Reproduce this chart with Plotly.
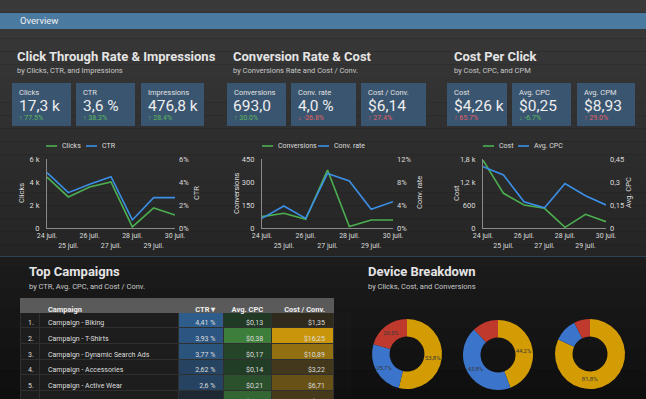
import plotly.graph_objects as go

W, H = 646, 399
def X(p): return p / W
def Y(p): return 1 - p / H

# ---------------- data ----------------
dates = ["24 juil.", "25 juil.", "26 juil.", "27 juil.", "28 juil.", "29 juil.", "30 juil."]
clicks = [4430, 2700, 3570, 4000, 90, 1740, 1130]
ctr = [4.81, 3.07, 3.80, 4.46, 0.70, 2.64, 2.64]
conversions = [74, 96, 57, 378, 9, 52, 52]
conv_rate = [1.68, 3.83, 1.68, 9.5, 8.17, 3.25, 4.58]
cost = [1770, 905, 600, 513, 18, 357, 165]
avg_cpc = [0.40, 0.346, 0.171, 0.132, 0.29, 0.21, 0.15]

kpi_labels = ["Clicks", "CTR", "Impressions", "Conversions", "Conv. rate", "Cost / Conv.", "Cost", "Avg. CPC", "Avg. CPM"]
kpi_values = ["17,3 k", "3,6 %", "476,8 k", "693,0", "4,0 %", "$6,14", "$4,26 k", "$0,25", "$8,93"]
kpi_changes = ["↑ 77.5%", "↑ 38.3%", "↑ 28.4%", "↑ 30.0%", "↓ -26.8%", "↑ 27.4%", "↑ 65.7%", "↓ -6.7%", "↑ 29.0%"]
kpi_good = [True, True, True, True, False, False, False, True, False]

campaigns = ["Campaign - Biking", "Campaign - T-Shirts", "Campaign - Dynamic Search Ads",
             "Campaign - Accessories", "Campaign - Active Wear", "Campaign - Wearables"]
camp_ctr = [4.41, 3.93, 3.77, 2.62, 2.6, 0.65]
camp_cpc = [0.13, 0.38, 0.17, 0.14, 0.21, 0.29]
camp_cost_conv = [1.35, 16.25, 10.89, 3.22, 6.71, 3.6]
table_headers = ["", "Campaign", "CTR ▾", "Avg. CPC", "Cost / Conv."]

devices = ["Mobile", "Desktop", "Tablet"]
share_clicks = [53.8, 25.7, 20.5]
share_cost = [44.2, 43.8, 12.0]
share_conv = [81.8, 10.8, 7.4]

# ---------------- style ----------------
FONT = "Roboto"
GREEN = "#4caf50"
BLUE = "#3b8fe6"
AXIS_C = "#8a8a8a"
TICK_C = "#dcdcdc"
DEV_COLORS = ["#d39b04", "#3b74cb", "#c0392d"]

fig = go.Figure()
shapes = []
ann = []

def hexc(v):
    v = max(0, min(255, int(round(v))))
    return "#%02x%02x%02x" % (v, v, v)

def band(y0, y1, c0, c1, n):
    for i in range(n):
        a = y0 + (y1 - y0) * i / n
        b = y0 + (y1 - y0) * (i + 1) / n
        c = c0 + (c1 - c0) * (i + 0.5) / n
        shapes.append(dict(type="rect", xref="paper", yref="paper", x0=0, x1=1,
                           y0=Y(b), y1=Y(a), fillcolor=hexc(c), line_width=0, layer="below"))

band(0, 257, 0x3a, 0x24, 20)
band(257, 399, 0x1c, 0x0e, 14)
shapes.append(dict(type="rect", xref="paper", yref="paper", x0=0, x1=1, y0=Y(29), y1=Y(13),
                   fillcolor="#4b7aa1", line_width=0, layer="below"))
shapes.append(dict(type="line", xref="paper", yref="paper", x0=0, x1=1, y0=Y(256.5), y1=Y(256.5),
                   line=dict(color="#2a4254", width=1), layer="below"))

def txt(x, y, s, size, color="#e6e6e6", xanchor="left", angle=0, yanchor="middle"):
    ann.append(dict(x=X(x), y=Y(y), xref="paper", yref="paper", text=s, showarrow=False,
                    xanchor=xanchor, yanchor=yanchor, textangle=angle,
                    font=dict(family=FONT, size=size, color=color)))

txt(18, 21, "Overview", 9.5, "#f0f0f0")

for x, t, s in [(15, "Click Through Rate & Impressions", "by Clicks, CTR, and Impressions"),
                (231, "Conversion Rate & Cost", "by Conversions Rate and Cost / Conv."),
                (452, "Cost Per Click", "by Cost, CPC, and CPM")]:
    txt(x, 56, "<b>" + t + "</b>", 13, "#e4e4e4")
    txt(x, 70.5, s, 7.5, "#c8c8c8")

card_x = [(12, 71), (76, 135), (141, 204), (227, 286), (291, 356), (361, 426), (447, 507), (512, 571), (577, 635)]
for i, (a, b) in enumerate(card_x):
    shapes.append(dict(type="rect", xref="paper", yref="paper", x0=X(a), x1=X(b), y0=Y(126), y1=Y(83),
                       fillcolor="#3a5570", line_width=0, layer="below"))
    txt(a + 5, 92, kpi_labels[i], 7.5, "#e0e0e0")
    txt(a + 4.5, 105.5, kpi_values[i], 15.5, "#eeeeee")
    txt(a + 5, 117.5, kpi_changes[i], 7, "#5cb85c" if kpi_good[i] else "#e06060")

# ---------------- line charts ----------------
ticktext = [d if i % 2 == 0 else " <br>" + d for i, d in enumerate(dates)]
charts = [
    dict(xd=(47, 175), s1=("Clicks", clicks), s2=("CTR", ctr),
         r1=[0, 6000], t1=[0, 2000, 4000, 6000], tt1=["0", "2 k", "4 k", "6 k"],
         r2=[0, 6], t2=[0, 2, 4, 6], tt2=["0%", "2%", "4%", "6%"],
         lt=22, rt=197, leg=(46, 86)),
    dict(xd=(262, 393), s1=("Conversions", conversions), s2=("Conv. rate", conv_rate),
         r1=[0, 450], t1=[0, 150, 300, 450], tt1=["0", "150", "300", "450"],
         r2=[0, 12], t2=[0, 4, 8, 12], tt2=["0%", "4%", "8%", "12%"],
         lt=237, rt=420, leg=(262, 318)),
    dict(xd=(483, 606), s1=("Cost", cost), s2=("Avg. CPC", avg_cpc),
         r1=[0, 1800], t1=[0, 600, 1200, 1800], tt1=["0", "600", "1,2 k", "1,8 k"],
         r2=[0, 0.45], t2=[0, 0.15, 0.3, 0.45], tt2=["0", "0,15", "0,3", "0,45"],
         lt=457, rt=629, leg=(483, 518)),
]
layout_axes = {}
for k, c in enumerate(charts):
    xn = "x" if k == 0 else "x%d" % (k + 1)
    y1n = "y" if k == 0 else "y%d" % (2 * k + 1)
    y2n = "y%d" % (2 * k + 2)
    fig.add_trace(go.Scatter(x=dates, y=c["s1"][1], name=c["s1"][0], mode="lines",
                             line=dict(color=GREEN, width=1.6), xaxis=xn, yaxis=y1n,
                             showlegend=False, hoverinfo="skip"))
    fig.add_trace(go.Scatter(x=dates, y=c["s2"][1], name=c["s2"][0], mode="lines",
                             line=dict(color=BLUE, width=1.6), xaxis=xn, yaxis=y2n,
                             showlegend=False, hoverinfo="skip"))
    xkey = "xaxis" if k == 0 else "xaxis%d" % (k + 1)
    y1key = "yaxis" if k == 0 else "yaxis%d" % (2 * k + 1)
    y2key = "yaxis%d" % (2 * k + 2)
    layout_axes[xkey] = dict(domain=[X(c["xd"][0]), X(c["xd"][1])], anchor=y1n, type="category",
                             range=[0, 6], tickmode="array", tickvals=dates, ticktext=ticktext,
                             tickangle=0, showline=True, linecolor=AXIS_C, linewidth=1,
                             showgrid=False, zeroline=False, ticks="", automargin=False,
                             ticklabelstandoff=1,
                             tickfont=dict(family=FONT, size=7, color=TICK_C))
    layout_axes[y1key] = dict(domain=[Y(228), Y(159)], anchor=xn, range=c["r1"], tickmode="array",
                              tickvals=c["t1"], ticktext=c["tt1"], showline=True, linecolor=AXIS_C,
                              linewidth=1, showgrid=False, zeroline=False, ticks="", automargin=False,
                              ticklabelstandoff=5,
                              tickfont=dict(family=FONT, size=7.5, color=TICK_C))
    layout_axes[y2key] = dict(overlaying=y1n, side="right", anchor=xn, range=c["r2"], tickmode="array",
                              tickvals=c["t2"], ticktext=c["tt2"], showline=False, showgrid=False,
                              zeroline=False, ticks="", ticklabelstandoff=3, automargin=False,
                              tickfont=dict(family=FONT, size=7.5, color=TICK_C))
    txt(c["lt"], 193, c["s1"][0], 7.5, TICK_C, xanchor="center", angle=-90)
    txt(c["rt"], 193, c["s2"][0], 7.5, TICK_C, xanchor="center", angle=-90)
    for (lx, col, name) in [(c["leg"][0], GREEN, c["s1"][0]), (c["leg"][1], BLUE, c["s2"][0])]:
        shapes.append(dict(type="line", xref="paper", yref="paper", x0=X(lx), x1=X(lx + 11),
                           y0=Y(146), y1=Y(146), line=dict(color=col, width=1.6)))
        txt(lx + 14, 146, name, 7, TICK_C)

# ---------------- table ----------------
def lerp_col(v, vmin, vmax, c0, c1):
    t = (v - vmin) / (vmax - vmin) if vmax > vmin else 0
    a = [int(c0[i:i + 2], 16) for i in (1, 3, 5)]
    b = [int(c1[i:i + 2], 16) for i in (1, 3, 5)]
    return "#%02x%02x%02x" % tuple(int(round(a[j] + (b[j] - a[j]) * t)) for j in range(3))

def col_colors(vals, c0, c1):
    return [lerp_col(v, min(vals), max(vals), c0, c1) for v in vals]

base = "#1d1d1d"
n = len(campaigns)
fill = [[base] * n, [base] * n,
        col_colors(camp_ctr, "#1e2833", "#2e5d8c"),
        col_colors(camp_cpc, "#203a25", "#3e7e3b"),
        col_colors(camp_cost_conv, "#302a1d", "#c9960b")]

def fmt(v):
    return ("%g" % v).replace(".", ",")

NB = "\u00a0"
fig.add_trace(go.Table(
    domain=dict(x=[X(20), X(334)], y=[0, Y(298)]),
    columnwidth=[20, 139, 45, 48, 62],
    header=dict(values=[h.replace(" ", NB) for h in table_headers],
                fill_color="#5a5a5a", line=dict(color="#5a5a5a", width=1),
                align=["left", "left", "right", "right", "right"], height=14,
                font=dict(family=FONT, size=7.5, color="#eeeeee", weight="bold")),
    cells=dict(values=[["%d." % (i + 1) for i in range(n)],
                       [c.replace(" ", NB) for c in campaigns],
                       [(fmt(v) + " %").replace(" ", NB) for v in camp_ctr],
                       ["$" + fmt(v) for v in camp_cpc],
                       ["$" + fmt(v) for v in camp_cost_conv]],
               fill_color=fill, line=dict(color="#303030", width=1),
               align=["left", "left", "right", "right", "right"], height=15.7,
               font=dict(family=FONT, size=7, color="#dddddd")),
))

txt(27, 271, "<b>Top Campaigns</b>", 13, "#e4e4e4")
txt(27, 286, "by CTR, Avg. CPC, and Cost / Conv.", 7.5, "#c8c8c8")
txt(366, 271, "<b>Device Breakdown</b>", 13, "#e4e4e4")
txt(366, 286, "by Clicks, Cost, and Conversions", 7.5, "#c8c8c8")

# ---------------- donuts ----------------
R = 35
for (cx, cy, vals, nm) in [(407, 354, share_clicks, "Clicks"), (498, 355, share_cost, "Cost"),
                           (590, 354, share_conv, "Conversions")]:
    tot = sum(vals)
    tt = ["%{percent:.1%}" if v / tot >= 0.15 else "" for v in vals]
    fig.add_trace(go.Pie(labels=devices, values=vals, name=nm, hole=0.5, sort=False,
                         direction="clockwise", rotation=0,
                         domain=dict(x=[X(cx - R), X(cx + R)], y=[Y(cy + R), Y(cy - R)]),
                         marker=dict(colors=DEV_COLORS, line=dict(width=0)),
                         texttemplate=tt, textposition="inside", insidetextorientation="horizontal",
                         textfont=dict(family=FONT, size=6, color="#3a3a3a"),
                         showlegend=False, hoverinfo="skip"))

fig.update_layout(template="none", width=W, height=H, margin=dict(l=0, r=0, t=0, b=0, autoexpand=False),
                  paper_bgcolor="#1a1a1a", plot_bgcolor="rgba(0,0,0,0)",
                  separators=", ", showlegend=False, shapes=shapes, annotations=ann,
                  font=dict(family=FONT), **layout_axes)

fig.write_html("out.html", config={"displayModeBar": False},
               post_script="document.body.style.margin='0px';document.body.style.overflow='hidden';")
